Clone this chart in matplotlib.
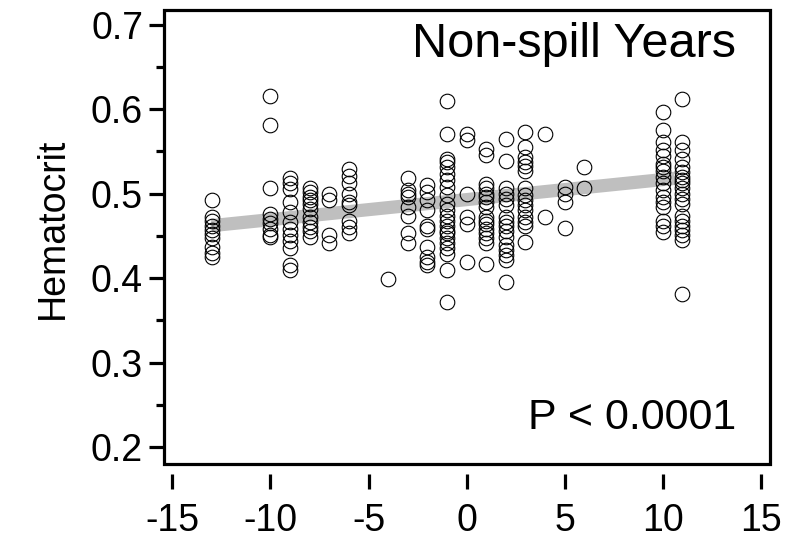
import matplotlib
matplotlib.use("Agg")
import matplotlib.pyplot as plt
from matplotlib.patches import Rectangle
from matplotlib.ticker import MultipleLocator

plt.rcParams['font.family'] = ['Liberation Sans', 'DejaVu Sans']
plt.rcParams['axes.unicode_minus'] = False

# --- Data ---
years = [-13, -10, -9, -8, -7, -6, -4, -3, -2, -1, 0, 1, 2, 3, 4, 5, 6, 10, 11]
hematocrit = [
    [0.492, 0.472, 0.467, 0.462, 0.457, 0.452, 0.447, 0.437, 0.430, 0.425],           # -13
    [0.616, 0.581, 0.506, 0.476, 0.470, 0.465, 0.458, 0.451, 0.449],                  # -10
    [0.519, 0.512, 0.505, 0.490, 0.478, 0.466, 0.458, 0.451, 0.444, 0.435,
     0.415, 0.410],                                                                   # -9
    [0.506, 0.502, 0.496, 0.492, 0.488, 0.482, 0.472, 0.466, 0.460, 0.456, 0.449],    # -8
    [0.500, 0.492, 0.451, 0.441],                                                     # -7
    [0.529, 0.521, 0.512, 0.500, 0.490, 0.486, 0.468, 0.460, 0.453],                  # -6
    [0.399],                                                                          # -4
    [0.518, 0.504, 0.500, 0.496, 0.484, 0.474, 0.453, 0.441],                         # -3
    [0.510, 0.502, 0.492, 0.480, 0.462, 0.458, 0.437, 0.425, 0.419, 0.415],           # -2
    [0.609, 0.570, 0.541, 0.537, 0.531, 0.523, 0.516, 0.508, 0.498, 0.488, 0.480,
     0.474, 0.468, 0.462, 0.456, 0.453, 0.447, 0.441, 0.435, 0.429, 0.409, 0.372],    # -1
    [0.571, 0.563, 0.500, 0.472, 0.464, 0.419],                                       # 0
    [0.553, 0.546, 0.511, 0.506, 0.500, 0.496, 0.490, 0.484, 0.472, 0.468, 0.464,
     0.458, 0.453, 0.447, 0.441, 0.417],                                              # 1
    [0.565, 0.539, 0.506, 0.500, 0.494, 0.486, 0.472, 0.466, 0.462, 0.456, 0.449,
     0.439, 0.433, 0.427, 0.421, 0.395],                                              # 2
    [0.573, 0.555, 0.543, 0.537, 0.533, 0.527, 0.506, 0.498, 0.492, 0.486, 0.480,
     0.472, 0.466, 0.462, 0.443],                                                     # 3
    [0.571, 0.472],                                                                   # 4
    [0.508, 0.500, 0.490, 0.459],                                                     # 5
    [0.531, 0.506],                                                                   # 6
    [0.596, 0.575, 0.561, 0.551, 0.545, 0.535, 0.531, 0.527, 0.520, 0.512, 0.504,
     0.496, 0.490, 0.484, 0.468, 0.462, 0.455],                                       # 10
    [0.612, 0.561, 0.551, 0.541, 0.531, 0.525, 0.520, 0.516, 0.512, 0.506, 0.500,
     0.494, 0.488, 0.474, 0.468, 0.462, 0.457, 0.451, 0.445, 0.381],                  # 11
]
fit_x = [-13, 10.6]
fit_y = [0.462, 0.518]

xs, ys = [], []
for yr, vals in zip(years, hematocrit):
    xs += [yr] * len(vals)
    ys += vals

# --- Plot ---
fig = plt.figure(figsize=(7.88, 5.37), dpi=100)
ax = fig.add_axes([0.208, 0.136, 0.769, 0.845])

ax.plot(fit_x, fit_y, color='#bfbfbf', lw=9.5, solid_capstyle='butt', zorder=1)
ax.plot(xs, ys, 'o', ms=10.5, mfc='none', mec='black', mew=0.8, zorder=2)

ax.set_xlim(-15.43, 15.46)
ax.set_ylim(0.18, 0.717)
ax.xaxis.set_major_locator(MultipleLocator(5))
ax.yaxis.set_major_locator(MultipleLocator(0.1))
ax.yaxis.set_minor_locator(MultipleLocator(0.05))
ax.set_yticklabels([f'{v:.1f}' for v in ax.get_yticks()])

for s in ['top', 'right', 'left', 'bottom']:
    ax.spines[s].set_visible(False)
ax.spines['bottom'].set_position(('outward', 7))
ax.add_patch(Rectangle((0, 0), 1, 1, transform=ax.transAxes, fill=False,
                       lw=2.3, ec='black', clip_on=False, zorder=5))

ax.tick_params(axis='both', which='major', direction='out', length=11, width=2.3,
               labelsize=27, color='black')
ax.tick_params(axis='y', which='minor', direction='out', length=6, width=2.3)
ax.tick_params(axis='x', pad=10)
ax.tick_params(axis='y', pad=4)

ax.set_ylabel('Hematocrit', fontsize=27)
ax.yaxis.set_label_coords(-0.153, 0.52)

ax.text(0.944, 0.975, 'Non-spill Years', transform=ax.transAxes, ha='right', va='top',
        fontsize=35)
ax.text(0.944, 0.058, 'P < 0.0001', transform=ax.transAxes, ha='right', va='bottom',
        fontsize=31)

fig.savefig('out.png', dpi=100)
